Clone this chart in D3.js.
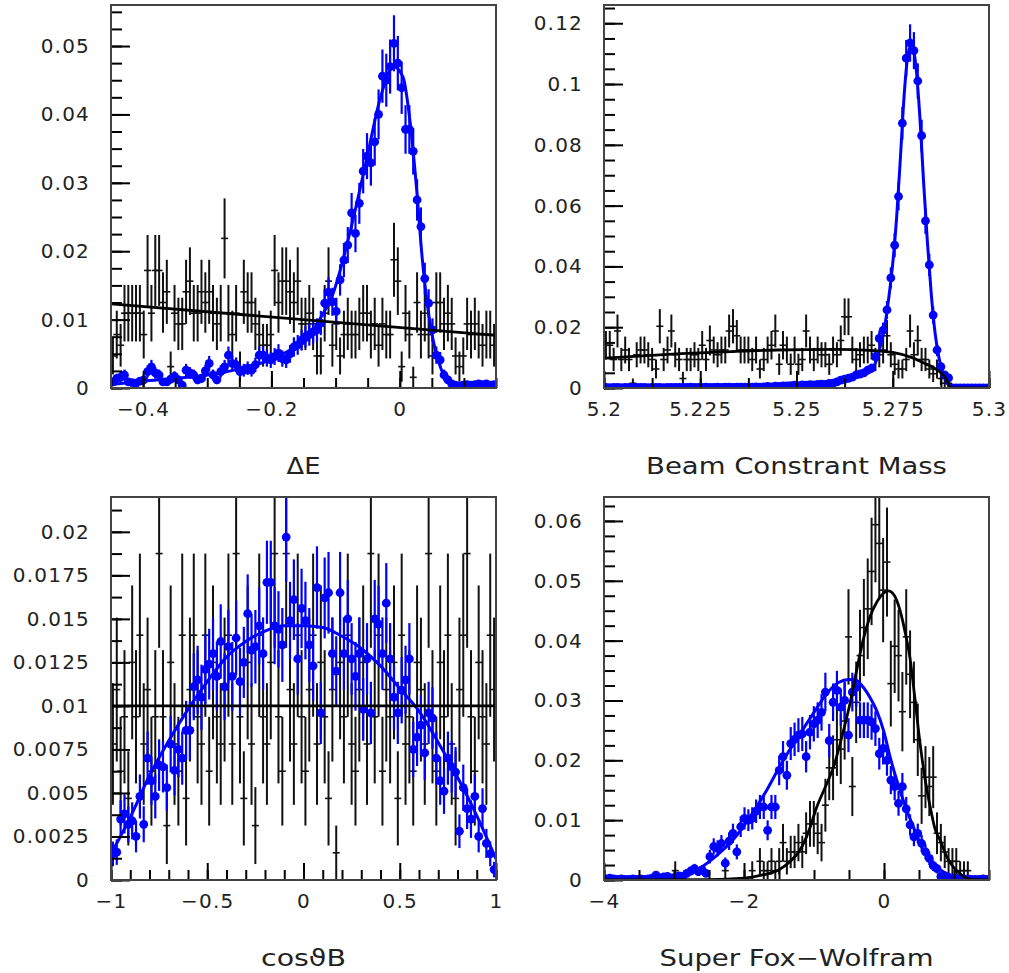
<!DOCTYPE html>
<html>
<head>
<meta charset="utf-8">
<script src="https://cdn.jsdelivr.net/npm/d3@7"></script>
<style>
  body { margin: 0; background: #fff; }
  svg { display: block; }
</style>
</head>
<body>
<svg id="chart" width="1009" height="973"></svg>
<script>
// entries behind the normalised histograms (used for the Poisson error bars)
var nBkg = 640;
var nSig = 3000;

// ---- Delta E ----
// background: counts per bin, 100 bins over [-0.45, 0.15]
var deBkg = [3,5,4,7,7,7,7,7,5,11, 7,11,11,8,9,2,7,6,6,9, 10,7,7,9,8,9,7,6,7,14,
  7,5,7,2,9,8,8,6,5,4, 4,5,11,8,10,10,9,8,10,6, 6,7,6,3,3,7,10,4,6,3,
  5,6,5,5,6,7,7,5,6,4, 6,5,5,12,10,2,7,5,1,8, 5,7,5,3,8,8,6,7,6,3, 2,3,6,5,6,5,4,5,5,4];
// signal MC: bin content in per mille
var deSig = [0.9,1.4,1.6,1.9,0.9,0.8,0.7,1.0,1.2,2.4, 3.1,2.2,1.9,0.9,0.9,1.3,1.7,1.2,0.4,2.6,
  2.2,1.9,1.2,1.4,2.5,3.6,1.9,1.2,2.4,3.1, 4.8,3.6,3.4,2.4,2.6,2.9,2.6,3.4,4.8,4.8,
  4.4,4.1,4.6,5.1,4.3,4.1,5.0,6.0,6.3,7.0, 7.5,7.8,8.2,8.5,9.5,12.4,14.0,12.6,11.2,15.8,
  18.7,20.9,25.6,22.6,27.0,31.7,33.9,32.9,36.0,40.0, 45.6,45.0,47.0,50.4,47.5,43.9,37.8,37.8,34.6,27.5,
  23.6,16.0,12.4,8.5,4.8,4.1,1.9,1.2,0.6,0.4, 0.3,0.4,0.5,0.4,0.5,0.6,0.5,0.6,0.4,0.5];
// fitted curves, [x, per mille]
var deFitBkg = [[-0.45,12.3],[0.15,7.7]];
var deFitSig = [[-0.45,0.5],[-0.4,1.0],[-0.35,1.4],[-0.3,1.9],[-0.25,2.8],[-0.2,4.2],[-0.17,5.6],
  [-0.145,7],[-0.125,10],[-0.104,13.8],[-0.078,22.6],[-0.052,33.3],[-0.03,42.5],[-0.01,47],
  [0.005,45.5],[0.016,39],[0.026,29.4],[0.035,19],[0.044,11.5],[0.052,7],[0.06,4],[0.067,2.2],
  [0.075,1.1],[0.083,0.6],[0.1,0.35],[0.15,0.3]];
var deXTicks = [-0.4,-0.2,0];
var deYTicks = [0,0.01,0.02,0.03,0.04,0.05];

// ---- Beam constrained mass ----
var mbcBkg = [9,9,6,12,6,8,6,1,7,8, 8,7,6,4,13,6,8,12,7,6, 2,6,6,7,6,9,6,10,8,7,
  8,8,12,13,11,8,8,8,6,8, 4,6,8,9,12,5,9,8,5,8, 5,6,12,8,6,8,7,7,5,8,
  7,10,15,15,8,6,7,8,8,9, 6,7,8,11,7,5,4,4,6,12, 7,10,6,6,4,3,4,2,1,1, 0,0,0,0,0,0,0,0,0,0];
var mbcSig = [0.2,0.1,0.2,0.2,0.1,0.2,0.2,0.1,0.2,0.2, 0.2,0.1,0.2,0.2,0.2,0.1,0.2,0.2,0.2,0.2,
  0.2,0.2,0.3,0.2,0.2,0.2,0.3,0.2,0.2,0.3, 0.2,0.3,0.3,0.2,0.3,0.3,0.3,0.3,0.3,0.4,
  0.3,0.4,0.5,0.4,0.6,0.5,0.7,0.7,0.8,0.9, 0.8,1.0,0.9,1.1,1.0,1.2,1.3,1.2,1.5,1.6,
  2.0,2.6,2.9,3.2,3.6,4.3,4.6,5.0,5.9,6.5, 10.3,16.3,19.0,25.7,36.2,47.0,63.0,87.1,108.5,113.5,
  111.0,101.0,83.0,55.0,40.5,24.0,12.5,7.0,4.3,3.3, 0,0,0,0,0,0,0,0,0,0];
var mbcFitBkg = [[5.2,9.8],[5.21,10.6],[5.22,11.3],[5.233,12.0],[5.245,12.5],[5.26,12.7],[5.27,12.3],
  [5.275,11.7],[5.28,10.0],[5.2835,8.0],[5.2865,6.0],[5.2885,3.7],[5.2895,1.5],[5.29,0],[5.3,0]];
var mbcFitSig = [[5.2,0.2],[5.24,0.4],[5.255,1.0],[5.26,1.8],[5.264,3.2],[5.268,5.0],[5.27,7.0],
  [5.271,10],[5.272,15],[5.273,21],[5.274,30],[5.275,41],[5.276,56],[5.277,76],[5.278,97],
  [5.279,110],[5.28,113],[5.281,106],[5.282,90],[5.283,68],[5.284,48],[5.285,31],[5.286,18],
  [5.287,10],[5.288,5],[5.289,2],[5.29,0],[5.3,0]];
var mbcXTicks = [5.2,5.225,5.25,5.275,5.3];
var mbcYTicks = [0,0.02,0.04,0.06,0.08,0.1,0.12];

// ---- cos theta B ----
var cosBkg = [5,7,4,6,3,8,6,9,5,7, 4,6,12,6,2,8,5,4,9,3, 7,9,6,5,9,4,8,6,5,7,
  9,5,12,6,3,8,5,2,9,6, 5,8,12,6,4,12,7,5,9,6, 4,7,9,5,8,6,3,7,1,8,
  6,9,5,4,7,8,5,12,6,9, 4,7,6,8,3,9,5,6,4,8, 7,5,12,6,4,8,6,9,5,3, 7,9,12,6,4,8,6,5,9,7];
var cosSig = [1.5,1.6,3.5,3.8,3.2,3.4,2.5,4.8,3.2,7.0, 5.7,4.8,6.6,6.5,5.3,7.8,6.3,7.5,7.0,8.6,
  8.6,11.1,11.5,10.5,12.1,12.4,13.0,11.7,13.7,11.1, 13.4,11.7,13.9,11.4,12.5,15.3,13.2,13.4,14.6,13.0,
  17.1,17.1,14.6,14.4,13.5,19.7,14.9,16.1,12.7,15.6, 14.9,13.5,12.3,16.8,9.6,16.2,16.5,13.0,12.0,16.5,
  13.0,15.0,12.7,11.7,13.0,9.8,12.7,9.6,15.0,14.7, 13.0,15.9,12.7,10.5,9.6,10.9,11.5,12.7,7.5,8.2,
  8.9,7.3,9.6,9.3,7.0,5.7,5.1,7.0,6.5,6.2, 2.8,5.3,4.1,3.5,4.8,2.5,4.1,2.1,1.5,0.6];
var cosFitBkg = [[-1,10],[1,10]];
var cosFitSig = [[-1,1.5],[-0.9,3.6],[-0.8,6.0],[-0.7,8.0],[-0.6,9.8],[-0.5,11.4],[-0.4,12.8],
  [-0.3,13.7],[-0.2,14.3],[-0.1,14.6],[0,14.6],[0.1,14.5],[0.2,14.0],[0.3,13.3],[0.4,12.3],
  [0.5,11.0],[0.6,9.7],[0.7,7.9],[0.8,5.9],[0.9,3.7],[1,1.2]];
var cosXTicks = [-1,-0.5,0,0.5,1];
var cosYTicks = [0,0.0025,0.005,0.0075,0.01,0.0125,0.015,0.0175,0.02];

// ---- Super Fox-Wolfram ----
var sfwBkg = [0,0,0,0,0,0,0,0,0,0, 0,0,0,0,0,0,0,0,1,0, 0,0,0,0,0,0,0,0,0,0,
  0,1,0,0,0,0,0,0,1,0, 2,1,1,2,1,2,4,2,3,3, 4,3,5,6,6,5,4,8,12,12,
  15,14,17,26,10,19,24,27,29,33, 38,36,31,34,21,25,24,18,26,22, 19,15,9,11,10,11,5,4,3,2, 2,2,1,1,1,0,0,0,0,0];
var sfwSig = [0.2,0.3,0.2,0.1,0.2,0.1,0.1,0.2,0.1,0.2, 0.1,0.2,0.3,0.8,0.4,0.5,0.6,0.3,0.5,0.7,
  0.6,1.1,1.5,1.9,1.4,1.7,1.1,3.9,5.6,5.3, 6.1,2.8,6.5,7.8,4.7,8.9,10.3,10.0,10.3,11.5,
  12.2,12.2,8.3,12.2,12.2,18.3,20.6,17.5,22.8,23.5, 24.2,24.4,20.6,24.7,26.1,26.7,28.0,31.4,23.3,29.7,
  31.7,28.9,30.0,24.2,31.4,32.2,26.7,26.7,26.7,26.4, 25.3,21.1,22.0,20.0,16.7,15.6,12.8,15.6,11.9,9.2,
  7.2,7.8,6.1,4.7,3.6,2.4,1.9,0.6,0.6,0.4, 0.3,0.3,0.2,0.2,0.2,0.1,0.1,0.1,0.2,0.1];
var sfwFitBkg = [[-4,0],[-2.5,0.05],[-2,0.3],[-1.75,0.8],[-1.5,1.7],[-1.35,3],[-1.2,5],[-1.08,8],
  [-0.96,12.2],[-0.84,15.5],[-0.72,18.9],[-0.6,24],[-0.486,29.5],[-0.4,34.5],[-0.3,40],[-0.2,44],
  [-0.1,46.5],[0.06,48.3],[0.15,47.5],[0.23,45],[0.3,41.5],[0.37,37.2],[0.44,30.5],[0.51,23.3],
  [0.585,17],[0.66,12.2],[0.73,8.5],[0.8,6.7],[0.9,3.8],[0.99,2.2],[1.08,1.1],[1.18,0.3],[1.3,0.05],[1.5,0]];
var sfwFitSig = [[-4,0.1],[-3.5,0.2],[-3,0.6],[-2.8,1.0],[-2.63,2.0],[-2.4,4.0],[-2.15,6.8],[-1.9,10.8],
  [-1.676,15],[-1.45,19.8],[-1.2,24.4],[-1.0,28],[-0.82,31.1],[-0.65,33],[-0.5,33.5],[-0.4,33.4],
  [-0.296,32.2],[-0.2,30.5],[-0.105,28.3],[0,24.7],[0.086,20.6],[0.2,16],[0.324,11.7],[0.45,8],
  [0.562,5],[0.68,3],[0.8,1.7],[0.95,0.8],[1.086,0.3],[1.25,0.1],[1.5,0.05]];
var sfwXTicks = [-4,-2,0];
var sfwYTicks = [0,0.01,0.02,0.03,0.04,0.05,0.06];

var W = 385, H = 383;
var blue = "#0000ff";
var labelFont = "DejaVu Sans, Verdana, sans-serif";
var ink = "#222";

var panels = [
  {name: "de", left: 111, top: 5, xDomain: [-0.45, 0.15], yDomain: [0, 0.056],
   xTicks: deXTicks, xMinor: 0.05, yTicks: deYTicks, yMinor: 0.0025,
   bkg: deBkg, sig: deSig, fitBkg: deFitBkg, fitSig: deFitSig, title: "ΔE", titleW: 34},
  {name: "mbc", left: 604, top: 5, xDomain: [5.2, 5.3], yDomain: [0, 0.126],
   xTicks: mbcXTicks, xMinor: 0.0125, yTicks: mbcYTicks, yMinor: 0.005,
   bkg: mbcBkg, sig: mbcSig, fitBkg: mbcFitBkg, fitSig: mbcFitSig, title: "Beam Constrant Mass", titleW: 301},
  {name: "cos", left: 111, top: 497, xDomain: [-1, 1], yDomain: [0, 0.022],
   xTicks: cosXTicks, xMinor: 0.1, yTicks: cosYTicks, yMinor: 0.00125,
   bkg: cosBkg, sig: cosSig, fitBkg: cosFitBkg, fitSig: cosFitSig, title: "cosϑB", titleW: 85},
  {name: "sfw", left: 604, top: 497, xDomain: [-4, 1.5], yDomain: [0, 0.064],
   xTicks: sfwXTicks, xMinor: 0.5, yTicks: sfwYTicks, yMinor: 0.0025,
   bkg: sfwBkg, sig: sfwSig, fitBkg: sfwFitBkg, fitSig: sfwFitSig, title: "Super Fox−Wolfram", titleW: 274}
];

var svg = d3.select("#chart");
svg.append("rect").attr("width", 1009).attr("height", 973).attr("fill", "#fff");

function fmt(d) {
  return String(+d.toFixed(6)).replace("-", "−");
}

function minorValues(domain, step) {
  var k0 = Math.ceil(domain[0] / step - 1e-6), k1 = Math.floor(domain[1] / step + 1e-6);
  return d3.range(k0, k1 + 1).map(k => +(k * step).toFixed(8));
}

function styleAxis(sel) {
  sel.select(".domain").remove();
  sel.selectAll("line").attr("stroke", "#000").attr("stroke-width", 2);
  sel.selectAll("text")
    .attr("fill", ink)
    .style("font-family", labelFont)
    .style("font-size", "20px")
    .style("letter-spacing", "1.2px");
}

panels.forEach(drawPanel);

function drawPanel(p) {
  var g = svg.append("g").attr("transform", `translate(${p.left},${p.top})`);
  var x = d3.scaleLinear().domain(p.xDomain).range([0, W]);
  var y = d3.scaleLinear().domain(p.yDomain).range([H, 0]);

  g.append("clipPath").attr("id", "clip-" + p.name)
    .append("rect").attr("width", W).attr("height", H);
  var plot = g.append("g").attr("clip-path", `url(#clip-${p.name})`);

  var nb = p.bkg.length;
  var bw = (p.xDomain[1] - p.xDomain[0]) / nb;
  var center = i => p.xDomain[0] + (i + 0.5) * bw;

  // background histogram: crosses with poisson errors
  var bk = p.bkg.map((n, i) => ({x: center(i), v: n / nBkg, e: Math.sqrt(n) / nBkg}))
    .filter(d => d.v > 0);
  plot.append("g").selectAll("line").data(bk).join("line")
    .attr("x1", d => x(d.x)).attr("x2", d => x(d.x))
    .attr("y1", d => y(d.v - d.e)).attr("y2", d => y(d.v + d.e))
    .attr("stroke", "#111").attr("stroke-width", 2);
  plot.append("g").selectAll("line").data(bk).join("line")
    .attr("x1", d => x(d.x) - 3.5).attr("x2", d => x(d.x) + 3.5)
    .attr("y1", d => y(d.v)).attr("y2", d => y(d.v))
    .attr("stroke", "#111").attr("stroke-width", 1.6);

  // signal MC: filled markers with errors
  var sg = p.sig.map((v, i) => ({x: center(i), v: v / 1000, e: Math.sqrt(v / 1000 / nSig)}));
  plot.append("g").selectAll("line").data(sg.filter(d => d.e > 0)).join("line")
    .attr("x1", d => x(d.x)).attr("x2", d => x(d.x))
    .attr("y1", d => y(d.v - d.e)).attr("y2", d => y(d.v + d.e))
    .attr("stroke", blue).attr("stroke-width", 2.2);
  plot.append("g").selectAll("circle").data(sg).join("circle")
    .attr("cx", d => x(d.x)).attr("cy", d => y(d.v)).attr("r", 4.4)
    .attr("fill", blue);

  var line = d3.line().x(d => x(d[0])).y(d => y(d[1] / 1000)).curve(d3.curveMonotoneX);
  plot.append("path").datum(p.fitSig).attr("d", line)
    .attr("fill", "none").attr("stroke", blue).attr("stroke-width", 3);
  plot.append("path").datum(p.fitBkg).attr("d", line)
    .attr("fill", "none").attr("stroke", "#000").attr("stroke-width", 2.8);

  // ticks point into the frame
  g.append("g").call(d3.axisLeft(y).tickValues(minorValues(p.yDomain, p.yMinor)).tickSize(-11).tickFormat(""))
    .call(styleAxis);
  g.append("g").call(d3.axisLeft(y).tickValues(p.yTicks).tickSize(-19).tickPadding(21).tickFormat(fmt))
    .call(styleAxis);
  g.append("g").attr("transform", `translate(0,${H})`)
    .call(d3.axisBottom(x).tickValues(minorValues(p.xDomain, p.xMinor)).tickSize(-10).tickFormat(""))
    .call(styleAxis);
  g.append("g").attr("transform", `translate(0,${H})`)
    .call(d3.axisBottom(x).tickValues(p.xTicks).tickSize(-17).tickPadding(14).tickFormat(fmt))
    .call(styleAxis);

  g.append("rect").attr("width", W).attr("height", H)
    .attr("fill", "none").attr("stroke", "#444").attr("stroke-width", 2);

  // axis title: widen the glyphs to the measured width instead of spacing them out
  var t = g.append("text")
    .attr("text-anchor", "middle")
    .attr("fill", ink)
    .style("font-family", labelFont).style("font-size", "23px")
    .text(p.title);
  var natural = t.node().getComputedTextLength();
  t.attr("transform", `translate(${W / 2},${H + 86}) scale(${p.titleW / natural},1)`);
}
</script>
</body>
</html>
